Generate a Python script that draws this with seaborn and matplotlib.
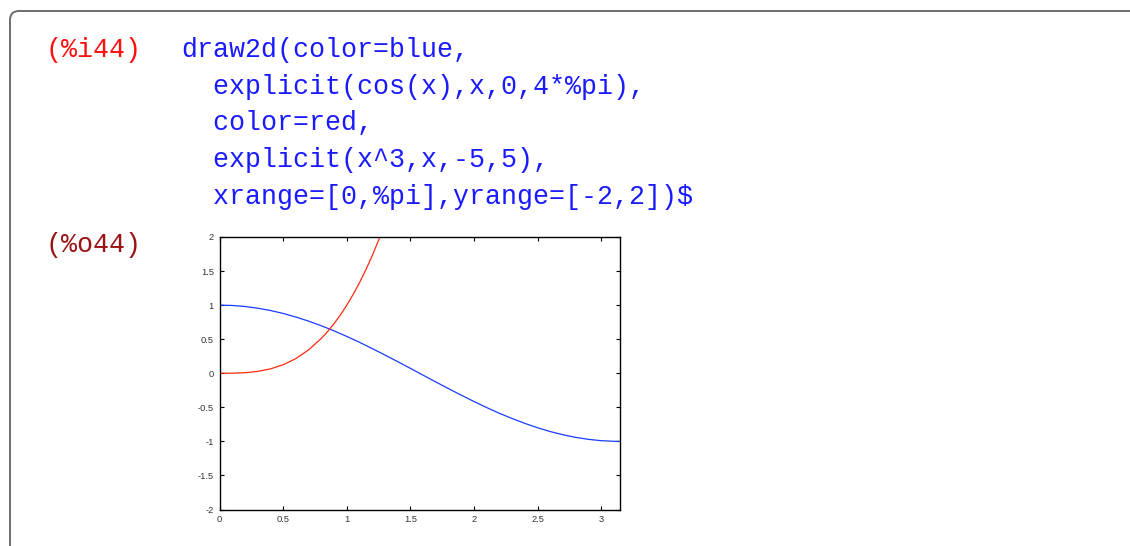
import matplotlib
matplotlib.use("Agg")
import matplotlib.pyplot as plt
import seaborn as sns
import pandas as pd
from matplotlib.patches import FancyBboxPatch
from matplotlib.transforms import IdentityTransform

# ---- data ----
cos_x = [0.0, 0.1, 0.2, 0.3, 0.4, 0.5, 0.6, 0.7, 0.8, 0.9, 1.0, 1.1, 1.2, 1.3, 1.4, 1.5,
         1.6, 1.7, 1.8, 1.9, 2.0, 2.1, 2.2, 2.3, 2.4, 2.5, 2.6, 2.7, 2.8, 2.9, 3.0, 3.1, 3.1416]
cos_y = [1.0, 0.995, 0.98, 0.955, 0.921, 0.878, 0.825, 0.765, 0.697, 0.622, 0.54, 0.454, 0.362,
         0.267, 0.17, 0.071, -0.029, -0.129, -0.227, -0.323, -0.416, -0.505, -0.589, -0.666,
         -0.737, -0.801, -0.857, -0.904, -0.942, -0.971, -0.99, -0.999, -1.0]
cube_x = [0.0, 0.1, 0.2, 0.3, 0.4, 0.5, 0.6, 0.7, 0.8, 0.85, 0.9, 0.95, 1.0, 1.05, 1.1, 1.15, 1.2, 1.26, 1.3]
cube_y = [0.0, 0.001, 0.008, 0.027, 0.064, 0.125, 0.216, 0.343, 0.512, 0.614, 0.729, 0.857,
          1.0, 1.158, 1.331, 1.521, 1.728, 2.0, 2.197]
x_ticks = [0, 0.5, 1, 1.5, 2, 2.5, 3]
x_tick_labels = ["0", "0.5", "1", "1.5", "2", "2.5", "3"]
y_ticks = [-2, -1.5, -1, -0.5, 0, 0.5, 1, 1.5, 2]
y_tick_labels = ["-2", "-1.5", "-1", "-0.5", "0", "0.5", "1", "1.5", "2"]

input_label = "(%i44)"
output_label = "(%o44)"
code_lines = [
    "draw2d(color=blue,",
    "  explicit(cos(x),x,0,4*%pi),",
    "  color=red,",
    "  explicit(x^3,x,-5,5),",
    "  xrange=[0,%pi],yrange=[-2,2])$",
]

sns.set_theme(style="white")
plt.rcParams["font.family"] = ["Liberation Sans", "DejaVu Sans"]

W, H = 1130, 546
fig = plt.figure(figsize=(W / 100, H / 100), dpi=100)
fig.patch.set_facecolor("white")

# cell frame (rounded, open to right/bottom)
frame = FancyBboxPatch((10, -20), 1150, 555, boxstyle="round,pad=0,rounding_size=9",
                       transform=IdentityTransform(), fill=False, edgecolor="#6e6e6e",
                       linewidth=1.4, figure=fig)
fig.patches.append(frame)

mono = ["Liberation Mono", "DejaVu Sans Mono"]
fs = 19.2
fig.text(46 / W, 1 - 57.3 / H, input_label, color="#ff1010", fontsize=fs, family=mono,
         va="baseline", ha="left")
baselines = [57.3, 93.5, 130, 167, 204]
for line, b in zip(code_lines, baselines):
    fig.text(181 / W, 1 - b / H, line, color="#1a1aff", fontsize=fs, family=mono,
             va="baseline", ha="left")
fig.text(46 / W, 1 - 251.7 / H, output_label, color="#9a1414", fontsize=fs, family=mono,
         va="baseline", ha="left")

# plot
ax = fig.add_axes([219.5 / W, 1 - 509.5 / H, 400.0 / W, 272.5 / H])
df_cos = pd.DataFrame({"x": cos_x, "y": cos_y})
df_cube = pd.DataFrame({"x": cube_x, "y": cube_y})
sns.lineplot(data=df_cos, x="x", y="y", ax=ax, color="#1a3cff", linewidth=0.9,
             sort=False, estimator=None)
sns.lineplot(data=df_cube, x="x", y="y", ax=ax, color="#ff2a10", linewidth=0.9,
             sort=False, estimator=None)
ax.set_xlim(0, 3.1416)
ax.set_ylim(-2, 2)
ax.set_xticks(x_ticks)
ax.set_xticklabels(x_tick_labels)
ax.set_yticks(y_ticks)
ax.set_yticklabels(y_tick_labels)
ax.set_xlabel("")
ax.set_ylabel("")
ax.tick_params(direction="in", length=3.2, width=0.8, color="black",
               labelsize=6.7, labelcolor="#333333", pad=4,
               top=True, right=True, bottom=True, left=True)
for s in ax.spines.values():
    s.set_color("black")
    s.set_linewidth(1.0)
    s.set_visible(True)
ax.grid(False)
ax.set_facecolor("white")

fig.savefig("out.png", dpi=100, facecolor="white")
